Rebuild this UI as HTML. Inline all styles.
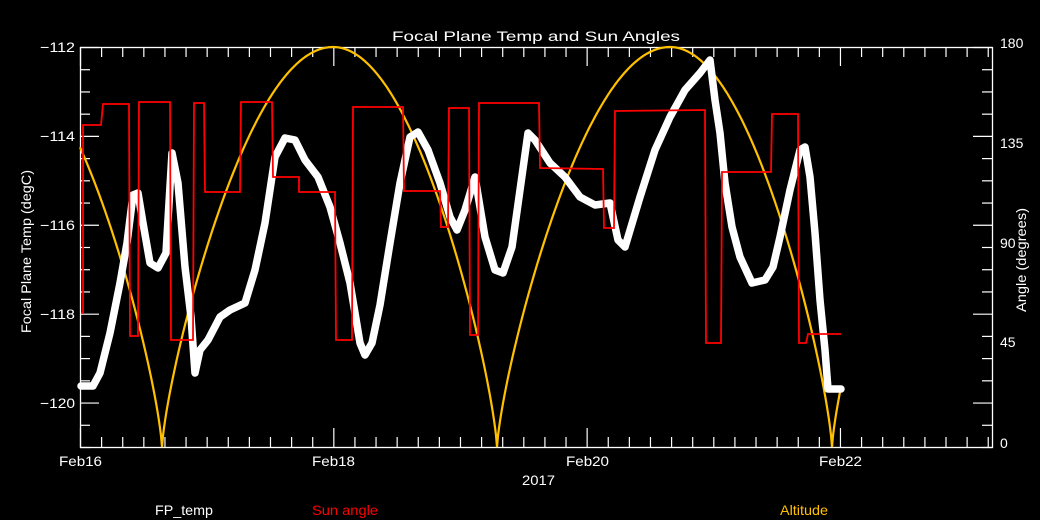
<!DOCTYPE html>
<html><head><meta charset="utf-8"><style>
html,body{margin:0;padding:0;background:#000;}
svg{display:block}
text{font-family:"Liberation Sans",sans-serif;font-size:14px;fill:#fff}
</style></head><body>
<svg id="s" width="1040" height="520" viewBox="0 0 1040 520" xmlns="http://www.w3.org/2000/svg">
<rect width="1040" height="520" fill="#000"/>
<text x="392" y="41" textLength="288" lengthAdjust="spacingAndGlyphs">Focal Plane Temp and Sun Angles</text>
<g id="ticks" stroke="#fff" stroke-width="1.2"></g>
<rect x="80.5" y="47.5" width="912" height="400" fill="none" stroke="#fff" stroke-width="1.3"/>
<g>
<text x="40" y="52" textLength="35" lengthAdjust="spacingAndGlyphs">−112</text><text x="40" y="141" textLength="35" lengthAdjust="spacingAndGlyphs">−114</text><text x="40" y="230" textLength="35" lengthAdjust="spacingAndGlyphs">−116</text><text x="40" y="319" textLength="35" lengthAdjust="spacingAndGlyphs">−118</text><text x="40" y="408" textLength="35" lengthAdjust="spacingAndGlyphs">−120</text>
</g>
<g>
<text x="1000" y="48">180</text><text x="1000" y="148">135</text><text x="1000" y="248">90</text><text x="1000" y="347">45</text><text x="1000" y="448">0</text>
</g>
<g>
<text x="59" y="466" textLength="43" lengthAdjust="spacingAndGlyphs">Feb16</text><text x="312" y="466" textLength="43" lengthAdjust="spacingAndGlyphs">Feb18</text><text x="566" y="466" textLength="43" lengthAdjust="spacingAndGlyphs">Feb20</text><text x="819" y="466" textLength="43" lengthAdjust="spacingAndGlyphs">Feb22</text>
<text x="522" y="485" textLength="33" lengthAdjust="spacingAndGlyphs">2017</text>
</g>
<text transform="translate(31,333) rotate(-90)" textLength="163" lengthAdjust="spacingAndGlyphs">Focal Plane Temp (degC)</text>
<text transform="translate(1026,312) rotate(-90)" textLength="104" lengthAdjust="spacingAndGlyphs">Angle (degrees)</text>
<path id="alt" fill="none" stroke="#FFC000" stroke-width="2.2"/>
<polyline fill="none" stroke="#fff" stroke-width="7.5" stroke-linejoin="round" stroke-linecap="round" points="81,386 93,386 100,373 110,333 120,283 127,243 133,195 138,193 143,223 150,263 158,268 166,253 172,153 178,183 185,267 191,317 195,373 200,350 208,340 220,317 230,310 245,303 255,270 265,223 275,157 285,138 295,140 305,160 318,177 330,207 340,243 350,283 360,343 365,355 372,343 380,305 390,243 400,183 410,137 418,132 428,150 440,183 450,217 457,230 465,210 475,177 485,237 495,270 503,273 512,247 520,190 528,133 535,140 550,163 565,177 580,197 595,205 610,203 618,240 625,247 640,197 655,150 670,117 685,90 700,73 710,60 715,100 720,133 725,183 732,227 740,257 752,283 765,280 773,267 780,237 790,190 800,150 805,147 810,177 815,233 820,300 825,350 828,389 841,389"/>
<polyline fill="none" stroke="#f00" stroke-width="1.8" points="81,313 83,313 83,125 101,125 103,104 129,104 130,336 138,336 139,102 170,102 171,340 193,340 194,103 204,103 205,192 240,192 241,102 272,102 273,177 299,177 299,192 335,192 336,340 352,340 353,107 403,107 404,191 440,191 441,227 448,227 449,108 469,108 470,335 478,335 479,103 539,103 540,168 603,169 604,228 614,228 615,111 705,110 706,343 721,343 722,172 771,172 772,114 798,114 799,343 806,343 808,334 841,334"/>
<text x="155" y="515" textLength="58" lengthAdjust="spacingAndGlyphs">FP_temp</text>
<text x="312" y="515" style="fill:#f00" textLength="66" lengthAdjust="spacingAndGlyphs">Sun angle</text>
<text x="780" y="515" style="fill:#FFC000" textLength="48" lengthAdjust="spacingAndGlyphs">Altitude</text>
</svg>
<script>
(function(){
var g=document.getElementById('ticks'),s='';
for(var i=0;i<=18;i++){var y=47.5+i*22.222;var maj=(i%4==0);var L=maj?19:10;
s+='<line x1="80" y1="'+y+'" x2="'+(80+L)+'" y2="'+y+'"/>';
s+='<line x1="992" y1="'+y+'" x2="'+(992-L)+'" y2="'+y+'"/>';}
for(var j=0;j<=43;j++){var x=80.5+j*21.11;if(x>992)break;var maj=(j%12==0);var L=maj?19:10;
s+='<line x1="'+x+'" y1="447" x2="'+x+'" y2="'+(447-L)+'"/>';
s+='<line x1="'+x+'" y1="47" x2="'+x+'" y2="'+(47+L)+'"/>';}
g.innerHTML=s;
var k=[[-9,1],[162,0],[333,1],[497,0],[670,1],[832,0],[1003,1]];
var d='';
for(var x=80;x<=841;x+=1){var a,b;for(var n=0;n<k.length-1;n++){if(x>=k[n][0]&&x<=k[n+1][0]){a=k[n];b=k[n+1];break;}}
var t=(x-a[0])/(b[0]-a[0]);var f=a[1]==0?t:1-t;var h=400*Math.pow(Math.sin(Math.PI/2*f),0.76);
d+=(d?'L':'M')+x+','+(447-h).toFixed(1);}
document.getElementById('alt').setAttribute('d',d);
})();
</script>
</body></html>
